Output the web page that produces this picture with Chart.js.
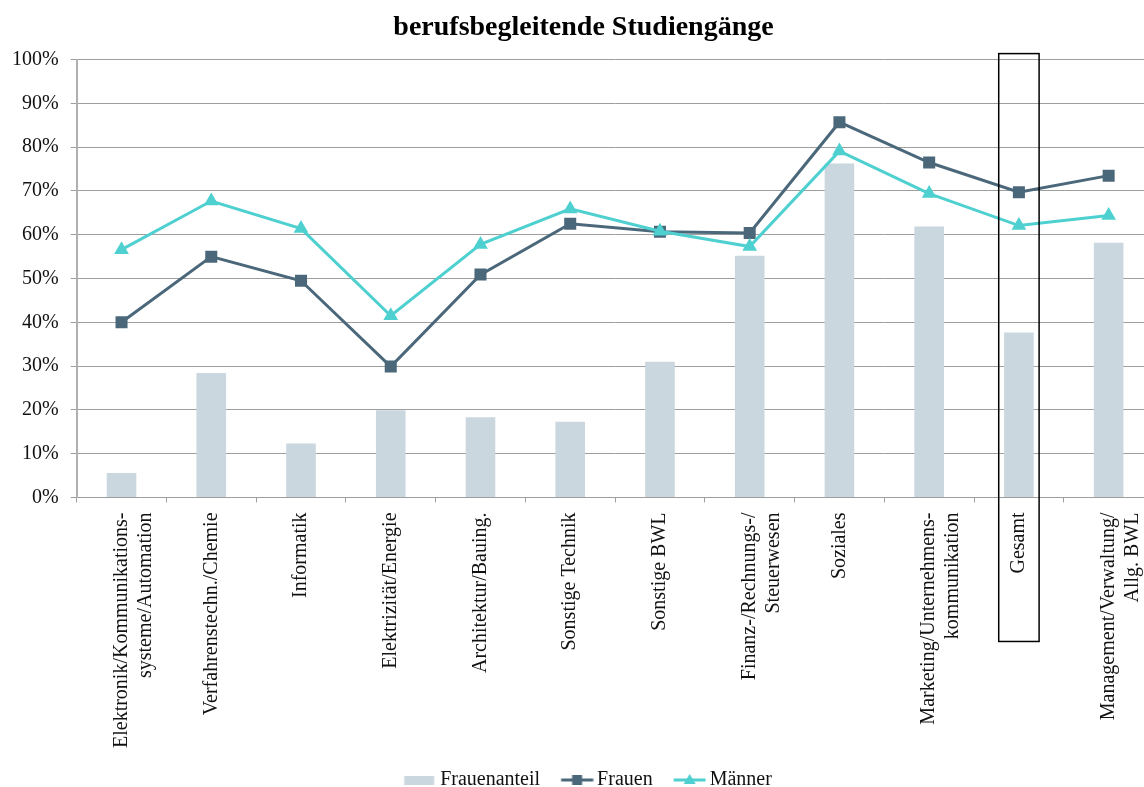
<!DOCTYPE html>
<html>
<head>
<meta charset="utf-8">
<script src="https://cdn.jsdelivr.net/npm/chart.js@4.4.1/dist/chart.umd.min.js"></script>
<style>
  html, body { margin: 0; padding: 0; background: #fff; overflow: hidden; }
  #wrap { width: 1144px; height: 787px; overflow: hidden; }
</style>
</head>
<body>
<div id="wrap"><canvas id="chart1" width="1167" height="787"></canvas></div>
<script>
// Kategorien (mehrzeilige Labels als Arrays)
var categories = [
  ['Elektronik/Kommunikations-', 'systeme/Automation'],
  'Verfahrenstechn./Chemie',
  'Informatik',
  'Elektrizität/Energie',
  'Architektur/Bauing.',
  'Sonstige Technik',
  'Sonstige BWL',
  ['Finanz-/Rechnungs-/', 'Steuerwesen'],
  'Soziales',
  ['Marketing/Unternehmens-', 'kommunikation'],
  'Gesamt',
  ['Management/Verwaltung/', 'Allg. BWL']
];

var frauenanteil = [5.6, 28.4, 12.3, 19.9, 18.3, 17.3, 31.0, 55.2, 76.3, 61.9, 37.7, 58.2];
var frauen       = [40.0, 55.0, 49.5, 29.9, 50.9, 62.5, 60.7, 60.4, 85.7, 76.5, 69.7, 73.5];
var maenner      = [56.6, 67.7, 61.4, 41.5, 57.8, 65.9, 60.8, 57.3, 79.1, 69.4, 62.1, 64.4];

var yTicks = [0, 10, 20, 30, 40, 50, 60, 70, 80, 90, 100];
var highlightIndex = 10; // Gesamt

var barColor = '#cad7df';
var frauenColor = '#4b687b';
var maennerColor = '#4fd0d0';
var gridColor = '#9e9e9e';

Chart.defaults.font.family = '"Liberation Serif", "Times New Roman", serif';
Chart.defaults.font.size = 20;
Chart.defaults.color = '#111';

// kleine Bildchen fuer die Legende (Linie + Marker), Symbol rechts im Bild
function legendIcon(kind, color) {
  var c = document.createElement('canvas');
  c.width = 48; c.height = 14;
  var g = c.getContext('2d');
  var x0 = 15.5, w = 32;
  if (kind === 'bar') {
    g.fillStyle = color;
    g.fillRect(x0, 3, 30, 9);
    return c;
  }
  g.strokeStyle = color;
  g.lineWidth = 3;
  g.beginPath(); g.moveTo(x0, 7); g.lineTo(x0 + w, 7); g.stroke();
  g.fillStyle = color;
  var m = x0 + w / 2;
  if (kind === 'rect') {
    g.fillRect(m - 5, 2, 10, 10);
  } else {
    g.beginPath(); g.moveTo(m, 1); g.lineTo(m + 6, 11); g.lineTo(m - 6, 11); g.closePath(); g.fill();
  }
  return c;
}
var icons = [legendIcon('bar', barColor), legendIcon('rect', frauenColor), legendIcon('tri', maennerColor)];

var gesamtBox = {
  id: 'gesamtBox',
  afterDraw: function(chart) {
    var x = chart.scales.x, y = chart.scales.y;
    var cx = x.getPixelForValue(highlightIndex);
    var step = x.getPixelForValue(1) - x.getPixelForValue(0);
    var half = step * 0.225;
    var top = y.getPixelForValue(100) - 6;
    var bottom = y.getPixelForValue(0) + 144;
    var ctx = chart.ctx;
    ctx.save();
    ctx.strokeStyle = '#000';
    ctx.lineWidth = 1.5;
    ctx.strokeRect(cx - half, top, half * 2, bottom - top);
    ctx.restore();
  }
};

new Chart('chart1', {
  type: 'bar',
  data: {
    labels: categories,
    datasets: [
      {
        label: 'Frauenanteil',
        data: frauenanteil,
        backgroundColor: barColor,
        barPercentage: 0.33,
        categoryPercentage: 1,
        order: 2
      },
      {
        type: 'line',
        label: 'Frauen',
        data: frauen,
        borderColor: frauenColor,
        backgroundColor: frauenColor,
        borderWidth: 3,
        pointStyle: 'rect',
        pointRadius: 8.5,
        pointBorderWidth: 0,
        tension: 0,
        order: 1
      },
      {
        type: 'line',
        label: 'Männer',
        data: maenner,
        borderColor: maennerColor,
        backgroundColor: maennerColor,
        borderWidth: 3,
        pointStyle: 'triangle',
        pointRadius: 8.5,
        pointBorderWidth: 0,
        tension: 0,
        order: 0
      }
    ]
  },
  options: {
    responsive: false,
    animation: false,
    layout: { padding: { left: 0, right: 0, top: 4, bottom: -13 } },
    plugins: {
      tooltip: { enabled: false },
      title: {
        display: true,
        text: 'berufsbegleitende Studiengänge',
        font: { size: 28, weight: 'bold' },
        color: '#000',
        padding: { top: 7, bottom: 15 }
      },
      legend: {
        position: 'bottom',
        labels: {
          usePointStyle: true,
          pointStyleWidth: 35,
          padding: 12,
          color: '#111',
          font: { size: 20 },
          generateLabels: function(chart) {
            var items = Chart.defaults.plugins.legend.labels.generateLabels(chart);
            items.sort(function(a, b) { return a.datasetIndex - b.datasetIndex; });
            items.forEach(function(it) { it.pointStyle = icons[it.datasetIndex]; });
            return items;
          }
        }
      }
    },
    scales: {
      x: {
        grid: { display: true, drawOnChartArea: false, drawTicks: true, tickLength: 5, color: gridColor, offset: true },
        border: { color: gridColor },
        ticks: {
          autoSkip: false,
          minRotation: 90,
          maxRotation: 90,
          padding: 10,
          color: '#111',
          font: { size: 20, lineHeight: 1.2 }
        }
      },
      y: {
        min: 0,
        max: 100,
        afterBuildTicks: function(axis) {
          axis.ticks = yTicks.map(function(v) { return { value: v }; });
        },
        grid: { color: gridColor, tickLength: 6 },
        border: { color: '#b0b0b0', width: 2 },
        ticks: {
          padding: 12,
          color: '#111',
          callback: function(v) { return v + '%'; }
        }
      }
    }
  },
  plugins: [gesamtBox]
});
</script>
</body>
</html>
